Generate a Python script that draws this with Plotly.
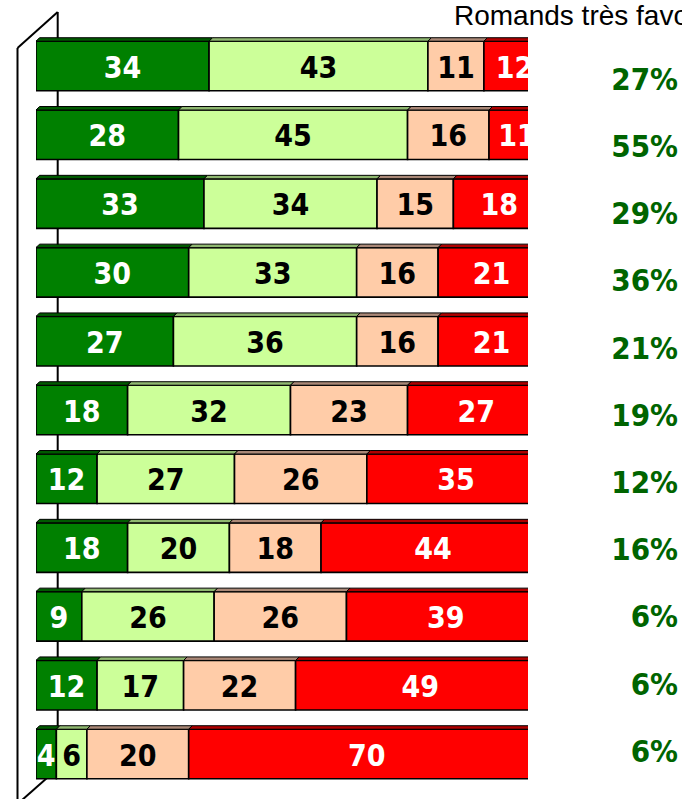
import plotly.graph_objects as go

# ---- data ----
rows = list(range(11))
dark_green = [34, 28, 33, 30, 27, 18, 12, 18, 9, 12, 4]
light_green = [43, 45, 34, 33, 36, 32, 27, 20, 26, 17, 6]
peach = [11, 16, 15, 16, 16, 23, 26, 18, 26, 22, 20]
red = [12, 11, 18, 21, 21, 27, 35, 44, 39, 49, 70]
pct_labels = ["27%", "55%", "29%", "36%", "21%", "19%", "12%", "16%", "6%", "6%", "6%"]
title_text = "Romands très favorables"

W, H = 682, 799
series = [
    (dark_green, "#008000", "#005a00", "white"),
    (light_green, "#ccff99", "#8fb870", "black"),
    (peach, "#ffcca8", "#aa8877", "black"),
    (red, "#ff0000", "#b00000", "white"),
]

FONT = "Liberation Sans Narrow, Arial Narrow, DejaVu Sans Condensed, sans-serif"
BAR_W = 0.72
TEXT_DY = 0.06  # small downward nudge of labels (data units)

fig = go.Figure()
base = [0] * len(rows)
shapes = []
px_per_x = (528 - 36) / 96.66
px_per_y = 68.8
dx = 3.5 / px_per_x
dy = 3.5 / px_per_y

for vals, col, topcol, tcol in series:
    fig.add_trace(go.Bar(
        y=rows, x=vals, base=base, orientation="h", width=BAR_W,
        marker=dict(color=col, line=dict(color="black", width=1.6)),
        showlegend=False, hoverinfo="skip",
    ))
    mids = [b + v / 2 for b, v in zip(base, vals)]
    fig.add_trace(go.Scatter(
        y=[r + TEXT_DY for r in rows], x=mids, mode="text", text=[str(v) for v in vals],
        textfont=dict(family=FONT, size=30, color=tcol, weight="bold"),
        textposition="middle center", showlegend=False, hoverinfo="skip",
        cliponaxis=True,
    ))
    for r, b, v in zip(rows, base, vals):
        yt = r - BAR_W / 2
        x0, x1 = b, b + v
        shapes.append(dict(
            type="path", xref="x", yref="y", layer="above",
            path=f"M {x0},{yt} L {x0+dx},{yt-dy} L {x1+dx},{yt-dy} L {x1},{yt} Z",
            fillcolor=topcol, line=dict(color="black", width=1),
        ))
    base = [b + v for b, v in zip(base, vals)]

# percentage column on its own axes
fig.add_trace(go.Scatter(
    x=[678 / W] * len(rows), y=[r + TEXT_DY for r in rows], xaxis="x2", yaxis="y2", mode="text",
    text=pct_labels, textposition="middle left",
    textfont=dict(family=FONT, size=31, color="#006400", weight="bold"),
    showlegend=False, hoverinfo="skip", cliponaxis=False,
))

def px(x):
    return x / W

def py(y):
    return 1 - y / H

wall = [
    ((57.7, 12), (57.7, 768.6)),
    ((57.7, 12), (17.5, 48)),
    ((17.5, 48), (17.5, 805)),
    ((57.7, 768.6), (17.5, 804)),
]
for (xa, ya), (xb, yb) in wall:
    shapes.append(dict(type="line", xref="paper", yref="paper", layer="below",
                       x0=px(xa), y0=py(ya), x1=px(xb), y1=py(yb),
                       line=dict(color="black", width=2)))

r_top = -66 / 68.8
r_bot = r_top + H / 68.8
r2_top = -78 / 67.2
r2_bot = r2_top + H / 67.2

fig.update_layout(
    width=W, height=H, margin=dict(l=0, r=0, t=0, b=0),
    paper_bgcolor="white", plot_bgcolor="rgba(0,0,0,0)",
    barmode="overlay",
    xaxis=dict(domain=[36 / W, 528 / W], range=[0, 96.66], visible=False, anchor="y"),
    yaxis=dict(domain=[0, 1], range=[r_bot, r_top], visible=False, anchor="x"),
    xaxis2=dict(domain=[0, 1], range=[0, 1], visible=False, anchor="y2"),
    yaxis2=dict(domain=[0, 1], range=[r2_bot, r2_top], visible=False, anchor="x2"),
    shapes=shapes,
    annotations=[dict(text=title_text, xref="paper", yref="paper", x=452 / W, y=1 - 16 / H,
                      xanchor="left", yanchor="middle", showarrow=False,
                      font=dict(family="Liberation Sans, Arial, sans-serif", size=28, color="black"))],
)

fig.write_html("out.html", config={"displayModeBar": False},
               post_script="document.body.style.margin='0';document.body.style.overflow='hidden';")
